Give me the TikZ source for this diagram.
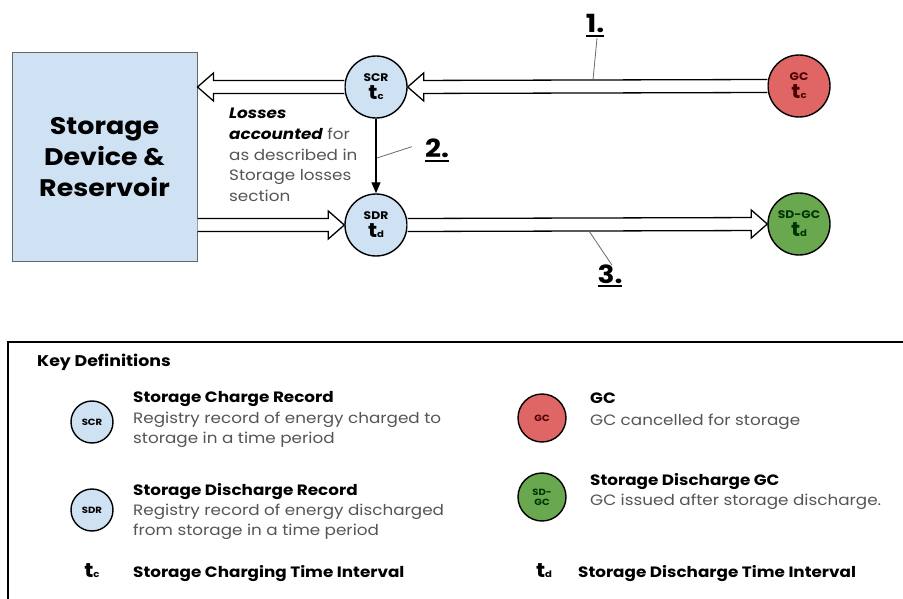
\documentclass[tikz,border=0pt]{standalone}
\usepackage{fontspec}
\setmainfont{Poppins}[FakeStretch=1.12]
\usepackage{tikz}
\usetikzlibrary{calc,positioning,arrows.meta}
\definecolor{boxblue}{RGB}{207,226,243}
\definecolor{gcred}{RGB}{224,102,102}
\definecolor{gcgreen}{RGB}{106,168,79}
\definecolor{txtgray}{RGB}{85,85,85}
\definecolor{leadgray}{RGB}{105,105,105}
\newcommand{\tsub}[1]{{\fontsize{20}{20}\selectfont\bfseries t}{\fontsize{9}{9}\selectfont\bfseries #1}}
\newcommand{\thickul}[1]{\vtop{\hbox{#1}\kern2pt\hrule height 1.8pt}}
\tikzset{
  rec/.style={circle, draw, line width=1.4pt, fill=boxblue, minimum size=62pt, inner sep=0pt, align=center, font=\fontsize{11}{18}\selectfont\bfseries},
  keyrec/.style={circle, draw, line width=1.4pt, fill=boxblue, minimum size=42pt, inner sep=0pt, align=center, font=\fontsize{9}{10}\selectfont\bfseries},
  fat/.style={fill=white, line width=1.3pt, to path={
    ($(\tikztostart)+(0,6.5pt)$)
    -- ($(\tikztotarget)!16pt!(\tikztostart)+(0,6.5pt)$)
    -- ($(\tikztotarget)!16pt!(\tikztostart)+(0,14pt)$)
    -- (\tikztotarget)
    -- ($(\tikztotarget)!16pt!(\tikztostart)+(0,-14pt)$)
    -- ($(\tikztotarget)!16pt!(\tikztostart)+(0,-6.5pt)$)
    -- ($(\tikztostart)+(0,-6.5pt)$)}},
  leader/.style={draw=leadgray, line width=0.8pt},
  numlbl/.style={font=\fontsize{25}{25}\selectfont\bfseries, inner sep=1pt},
  keyhead/.style={anchor=base west, font=\fontsize{15}{18}\selectfont\bfseries, inner sep=0pt},
  keybody/.style={anchor=base west, text=txtgray, font=\fontsize{15}{18}\selectfont, inner sep=0pt},
}
\begin{document}
\begin{tikzpicture}[yscale=-1]
  \useasboundingbox[fill=white] (0pt,0pt) rectangle (903pt,599pt);
  % flow part
  \node[draw=black!60, line width=1pt, fill=boxblue, minimum width=185pt, minimum height=209pt, align=center,
        font=\fontsize{24}{31}\selectfont\bfseries] (store) at (104.5pt,157pt) {Storage\\Device \&\\Reservoir};
  \node[rec] (scr) at (376pt,87pt) {SCR\\\tsub{c}};
  \node[rec] (sdr) at (376pt,225pt) {SDR\\\tsub{d}};
  \node[rec, fill=gcred, text=red!30!black] (gc) at (799pt,86pt) {GC\\\tsub{c}};
  \node[rec, fill=gcgreen, text=green!20!black] (sdgc) at (799pt,224pt) {SD-GC\\\tsub{d}};
  \draw[fat] (gc.west) to (scr.east);
  \draw[fat] (scr.west) to (store.east |- scr.west);
  \draw[fat] (store.east |- sdr.west) to (sdr.west);
  \draw[fat] (sdr.east) to (sdgc.west);
  \draw[line width=1.3pt, -{Triangle[length=11pt,width=9pt]}] (scr) -- (sdr);
  \node[anchor=north west, align=left, text=txtgray, inner sep=0pt, font=\fontsize{15}{20.7}\selectfont] (loss) at (229pt,108pt)
    {\textcolor{black}{\bfseries\itshape Losses}\\\textcolor{black}{\bfseries\itshape accounted} for\\as described in\\Storage losses\\section};
  % step numbers
  \node[numlbl, anchor=base] (n1) at (595pt,33pt) {\thickul{1.}};
  \node[numlbl, anchor=base] (n2) at (437pt,158pt) {\thickul{2.}};
  \node[numlbl, anchor=base] (n3) at (610pt,283pt) {\thickul{3.}};
  \coordinate (m1) at (593pt,80pt);
  \coordinate (m2) at (377pt,158pt);
  \coordinate (m3) at (589pt,231pt);
  \draw[leader] ([xshift=2pt]n1.south) -- (m1);
  \draw[leader] ([xshift=-12pt,yshift=-4pt]n2.west) -- (m2);
  \draw[leader] ([xshift=2pt,yshift=2pt]n3.north) -- (m3);
  % key definitions
  \draw[line width=1.6pt] (903pt,342pt) -- (8pt,342pt) -- (8pt,599pt);
  \node[anchor=base west, inner sep=0pt, font=\fontsize{15.5}{18}\selectfont\bfseries] (keytitle) at (37pt,366pt) {Key Definitions};
  \node[keyrec] (kscr) at (92pt,422pt) {SCR};
  \node[keyrec] (ksdr) at (92pt,510pt) {SDR};
  \node[keyrec, minimum size=48pt, fill=gcred, text=red!30!black] (kgc) at (542pt,418pt) {GC};
  \node[keyrec, minimum size=48pt, fill=gcgreen, text=green!20!black] (ksdgc) at (542pt,497pt) {SD-\\GC};
  \node[keyhead] (hscr) at (133pt,402pt) {Storage Charge Record};
  \node[keybody] at (133pt,423pt) {Registry record of energy charged to};
  \node[keybody] at (133pt,443pt) {storage in a time period};
  \node[keyhead] (hsdr) at (133pt,495pt) {Storage Discharge Record};
  \node[keybody] at (133pt,515pt) {Registry record of energy discharged};
  \node[keybody] at (133pt,535pt) {from storage in a time period};
  \node[keyhead] (hgc) at (590pt,403pt) {GC};
  \node[keybody] at (590pt,425pt) {GC cancelled for storage};
  \node[keyhead] (hsdgc) at (590pt,485pt) {Storage Discharge GC};
  \node[keybody] at (590pt,505pt) {GC issued after storage discharge.};
  \node[anchor=base, inner sep=0pt] (ktc) at (92pt,577pt) {\tsub{c}};
  \node[keyhead] at (133pt,577pt) {Storage Charging Time Interval};
  \node[anchor=base, inner sep=0pt] (ktd) at (544pt,577pt) {\tsub{d}};
  \node[keyhead] at (578pt,577pt) {Storage Discharge Time Interval};
\end{tikzpicture}
\end{document}
